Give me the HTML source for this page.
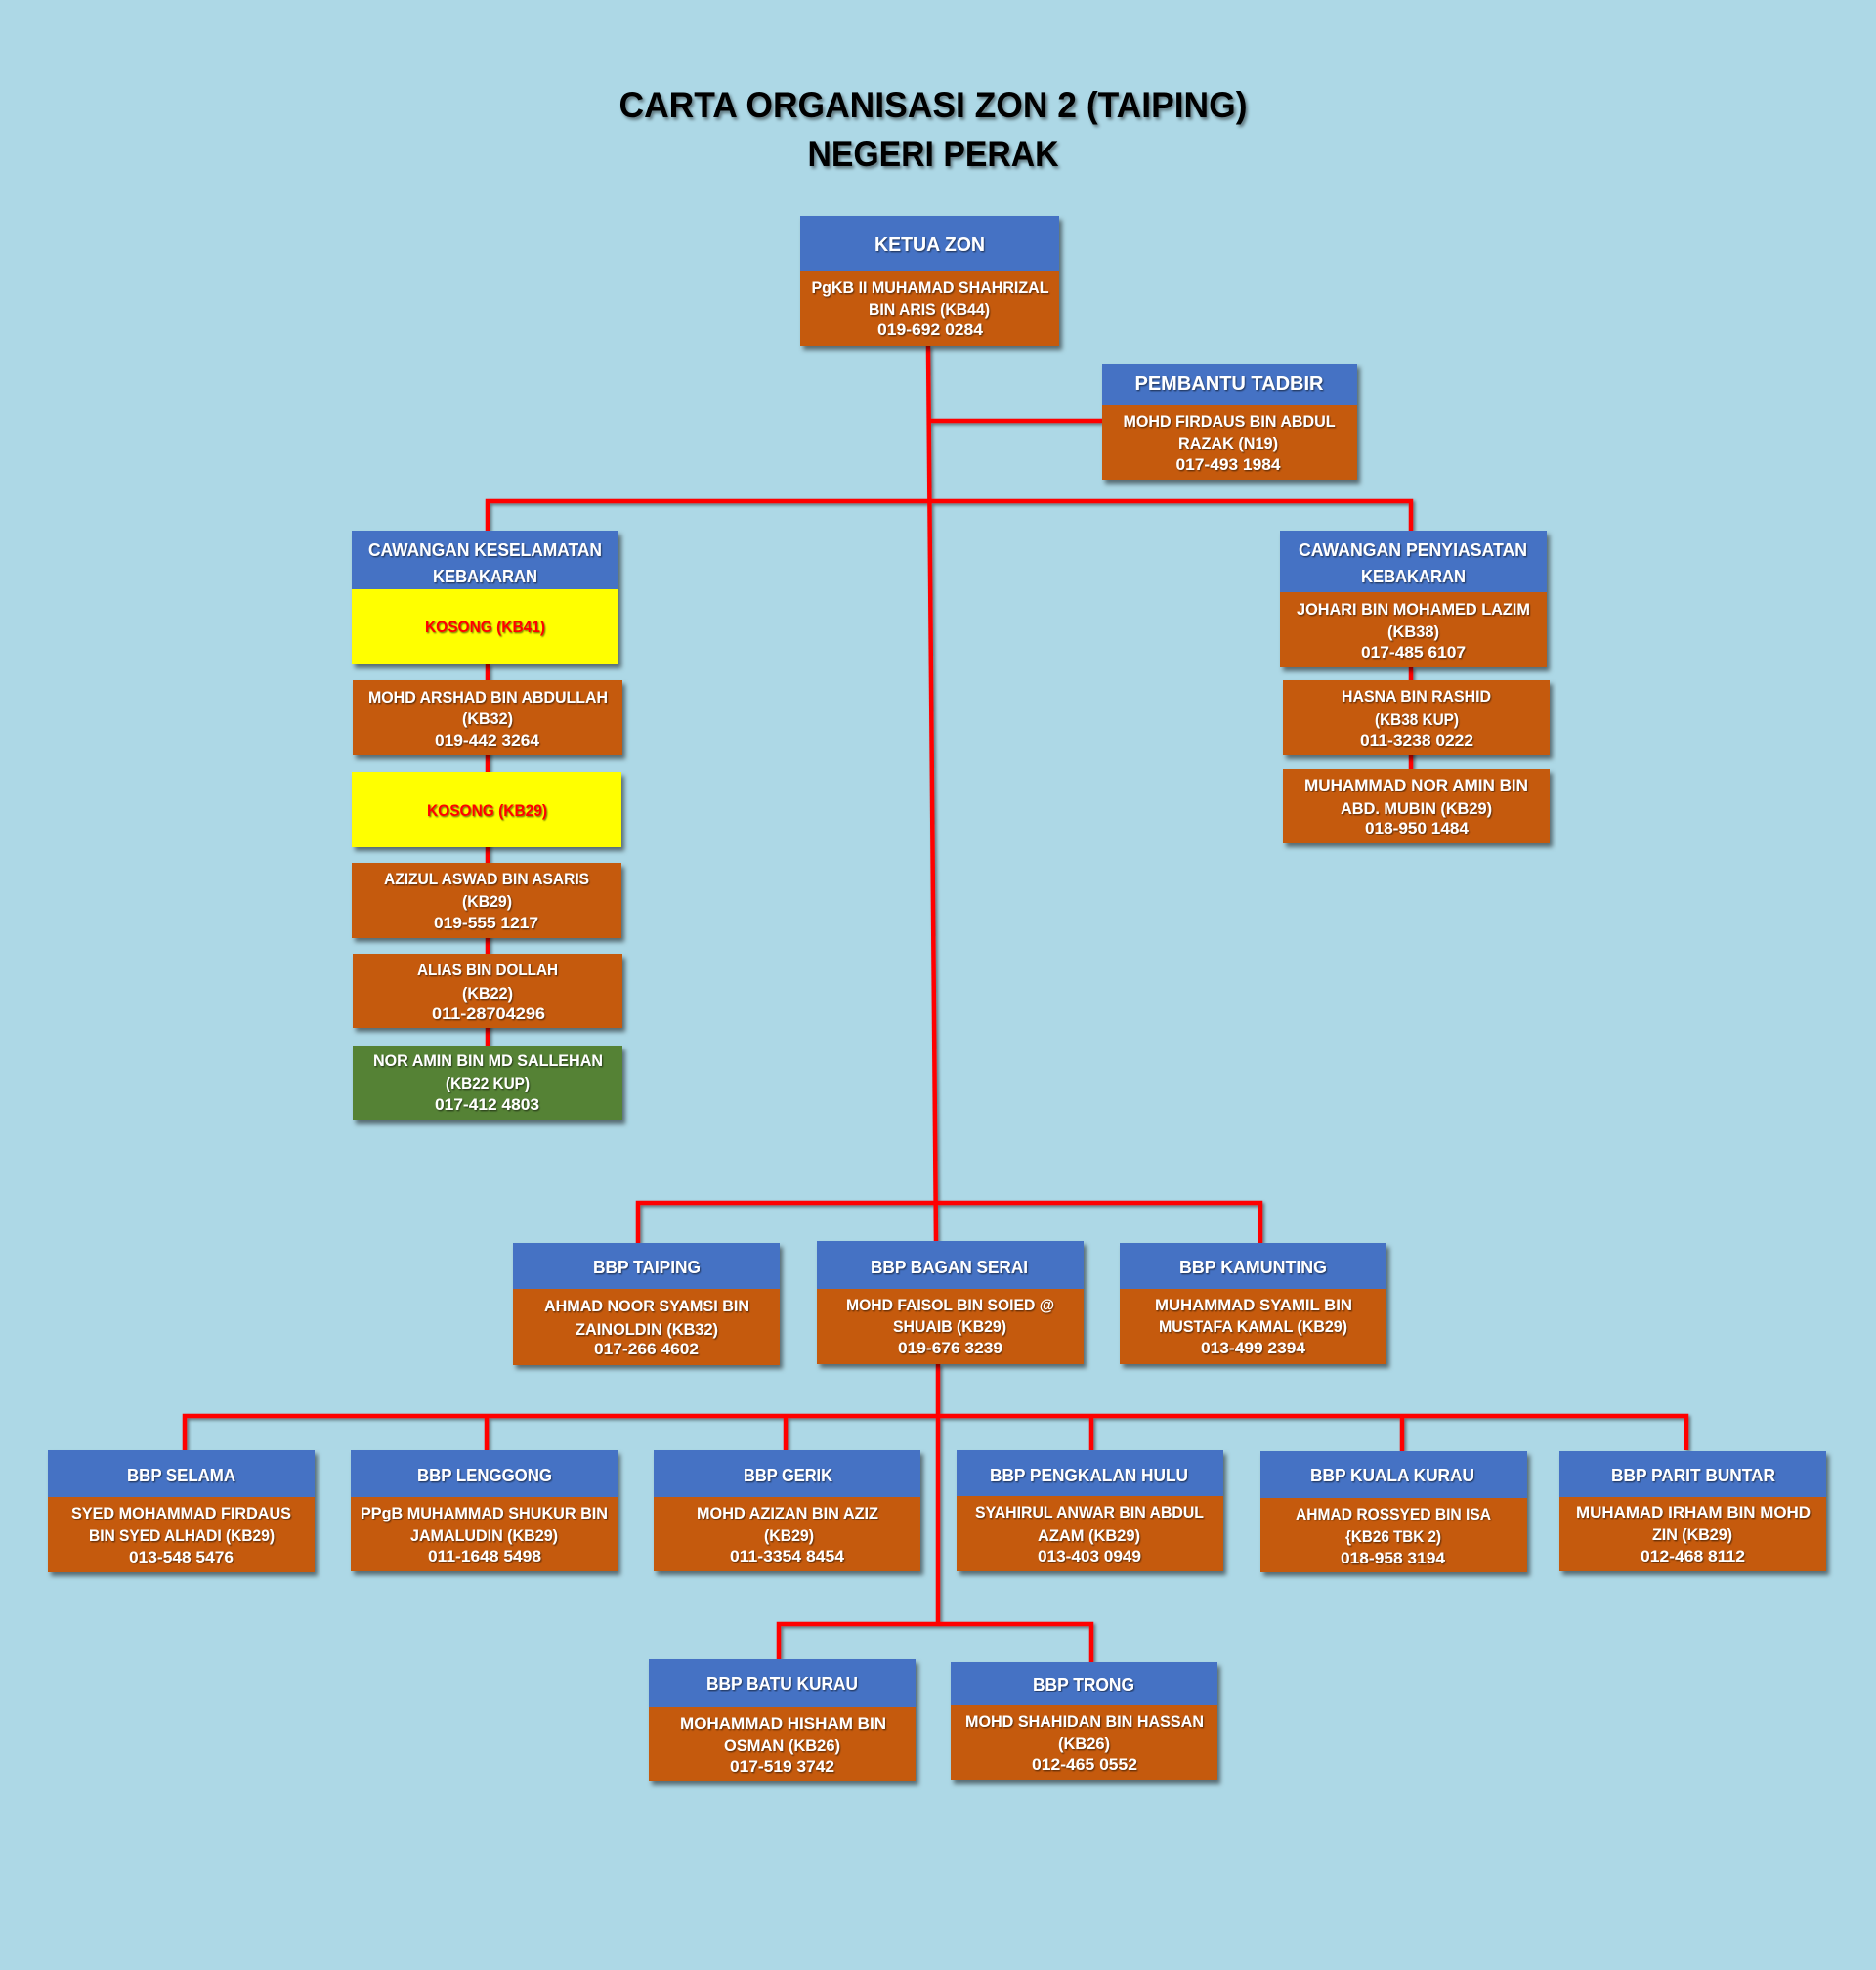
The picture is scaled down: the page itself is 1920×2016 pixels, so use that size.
<!DOCTYPE html>
<html>
<head>
<meta charset="utf-8">
<style>
html,body{margin:0;padding:0;background:#ADD8E6;}
svg{display:block;}
text{font-family:"Liberation Sans",Arial,sans-serif;font-weight:bold;}
</style>
</head>
<body>
<svg width="1920" height="2016" viewBox="0 0 1920 2016" xmlns="http://www.w3.org/2000/svg">
<defs>
<filter id="bs" filterUnits="userSpaceOnUse" x="0" y="0" width="1920" height="2016"><feDropShadow dx="3" dy="4" stdDeviation="2.5" flood-color="#000" flood-opacity="0.5"/></filter>
<filter id="ls" filterUnits="userSpaceOnUse" x="0" y="0" width="1920" height="2016"><feDropShadow dx="2" dy="2" stdDeviation="1.5" flood-color="#000" flood-opacity="0.45"/></filter>
<filter id="ts" filterUnits="userSpaceOnUse" x="0" y="0" width="1920" height="2016"><feDropShadow dx="1" dy="1.2" stdDeviation="0.8" flood-color="#000" flood-opacity="0.55"/></filter>
<filter id="tt" filterUnits="userSpaceOnUse" x="0" y="0" width="1920" height="2016"><feDropShadow dx="2" dy="2.5" stdDeviation="1.5" flood-color="#000" flood-opacity="0.45"/></filter>
</defs>
<rect x="0" y="0" width="1920" height="2016" fill="#ADD8E6"/>

<!-- Title -->
<g filter="url(#tt)" fill="#000" text-anchor="middle">
<text x="955" y="120" font-size="37" textLength="643" lengthAdjust="spacingAndGlyphs">CARTA ORGANISASI ZON 2 (TAIPING)</text>
<text x="955" y="170" font-size="37" textLength="257" lengthAdjust="spacingAndGlyphs">NEGERI PERAK</text>
</g>

<!-- Connectors -->
<g fill="none" stroke="#FF0000" stroke-width="4.5" filter="url(#ls)">
<path d="M950 354 L958 1272"/>
<path d="M951 431 H1128"/>
<path d="M499 543 V513 H1444 V543"/>
<path d="M499 680 V1070"/>
<path d="M1444 683 V787"/>
<path d="M653 1272 V1231 H1290 V1272"/>
<path d="M960 1396 V1662"/>
<path d="M189 1484 V1449 H1726 V1484"/>
<path d="M498 1449 V1484"/>
<path d="M804 1449 V1484"/>
<path d="M1117 1449 V1484"/>
<path d="M1435 1449 V1485"/>
<path d="M797 1698 V1662 H1117 V1701"/>
</g>

<!-- Boxes -->
<g filter="url(#bs)">
<!-- KETUA ZON -->
<rect x="819" y="221" width="265" height="56" fill="#4472C4"/>
<rect x="819" y="277" width="265" height="77" fill="#C55A11"/>
<!-- PEMBANTU TADBIR -->
<rect x="1128" y="372" width="261" height="42" fill="#4472C4"/>
<rect x="1128" y="414" width="261" height="77" fill="#C55A11"/>
<!-- CAWANGAN KESELAMATAN -->
<rect x="360" y="543" width="273" height="60" fill="#4472C4"/>
<rect x="360" y="603" width="273" height="77" fill="#FFFF00"/>
<rect x="361" y="696" width="276" height="77" fill="#C55A11"/>
<rect x="360" y="790" width="276" height="77" fill="#FFFF00"/>
<rect x="360" y="883" width="276" height="77" fill="#C55A11"/>
<rect x="361" y="976" width="276" height="76" fill="#C55A11"/>
<rect x="361" y="1070" width="276" height="76" fill="#548235"/>
<!-- CAWANGAN PENYIASATAN -->
<rect x="1310" y="543" width="273" height="63" fill="#4472C4"/>
<rect x="1310" y="606" width="273" height="77" fill="#C55A11"/>
<rect x="1313" y="696" width="273" height="77" fill="#C55A11"/>
<rect x="1313" y="787" width="273" height="76" fill="#C55A11"/>
<!-- middle row -->
<rect x="525" y="1272" width="273" height="47" fill="#4472C4"/>
<rect x="525" y="1319" width="273" height="78" fill="#C55A11"/>
<rect x="836" y="1270" width="273" height="49" fill="#4472C4"/>
<rect x="836" y="1319" width="273" height="77" fill="#C55A11"/>
<rect x="1146" y="1272" width="273" height="47" fill="#4472C4"/>
<rect x="1146" y="1319" width="273" height="77" fill="#C55A11"/>
<!-- bottom row -->
<rect x="49" y="1484" width="273" height="48" fill="#4472C4"/>
<rect x="49" y="1532" width="273" height="77" fill="#C55A11"/>
<rect x="359" y="1484" width="273" height="48" fill="#4472C4"/>
<rect x="359" y="1532" width="273" height="76" fill="#C55A11"/>
<rect x="669" y="1484" width="273" height="48" fill="#4472C4"/>
<rect x="669" y="1532" width="273" height="76" fill="#C55A11"/>
<rect x="979" y="1484" width="273" height="47" fill="#4472C4"/>
<rect x="979" y="1531" width="273" height="77" fill="#C55A11"/>
<rect x="1290" y="1485" width="273" height="48" fill="#4472C4"/>
<rect x="1290" y="1533" width="273" height="76" fill="#C55A11"/>
<rect x="1596" y="1485" width="273" height="47" fill="#4472C4"/>
<rect x="1596" y="1532" width="273" height="76" fill="#C55A11"/>
<!-- last row -->
<rect x="664" y="1698" width="273" height="49" fill="#4472C4"/>
<rect x="664" y="1747" width="273" height="76" fill="#C55A11"/>
<rect x="973" y="1701" width="273" height="44" fill="#4472C4"/>
<rect x="973" y="1745" width="273" height="77" fill="#C55A11"/>
</g>

<!-- White text -->
<g filter="url(#ts)" fill="#FFFFFF" text-anchor="middle">
<!-- KETUA -->
<text x="951.5" y="257" font-size="20.5" textLength="113" lengthAdjust="spacingAndGlyphs">KETUA ZON</text>
<text x="952" y="300" font-size="16.5" textLength="243" lengthAdjust="spacingAndGlyphs">PgKB II MUHAMAD SHAHRIZAL</text>
<text x="951" y="322" font-size="16.5" textLength="124" lengthAdjust="spacingAndGlyphs">BIN ARIS (KB44)</text>
<text x="952" y="343" font-size="16.5" textLength="108" lengthAdjust="spacingAndGlyphs">019-692 0284</text>
<!-- PEMBANTU -->
<text x="1258" y="399" font-size="20" textLength="193" lengthAdjust="spacingAndGlyphs">PEMBANTU TADBIR</text>
<text x="1258" y="437" font-size="16.5" textLength="217" lengthAdjust="spacingAndGlyphs">MOHD FIRDAUS BIN ABDUL</text>
<text x="1257" y="459" font-size="16.5" textLength="102" lengthAdjust="spacingAndGlyphs">RAZAK (N19)</text>
<text x="1257" y="481" font-size="16.5" textLength="107" lengthAdjust="spacingAndGlyphs">017-493 1984</text>
<!-- CAW KES -->
<text x="496.5" y="569" font-size="18" textLength="239" lengthAdjust="spacingAndGlyphs">CAWANGAN  KESELAMATAN</text>
<text x="496.5" y="596" font-size="18" textLength="107" lengthAdjust="spacingAndGlyphs">KEBAKARAN</text>
<text x="499.5" y="719" font-size="16.5" textLength="245" lengthAdjust="spacingAndGlyphs">MOHD ARSHAD BIN ABDULLAH</text>
<text x="499" y="741" font-size="16.5" textLength="52" lengthAdjust="spacingAndGlyphs">(KB32)</text>
<text x="498.5" y="763" font-size="16.5" textLength="107" lengthAdjust="spacingAndGlyphs">019-442 3264</text>
<text x="498" y="905" font-size="16.5" textLength="210" lengthAdjust="spacingAndGlyphs">AZIZUL ASWAD BIN ASARIS</text>
<text x="498.5" y="928" font-size="16.5" textLength="51" lengthAdjust="spacingAndGlyphs">(KB29)</text>
<text x="497.5" y="950" font-size="16.5" textLength="107" lengthAdjust="spacingAndGlyphs">019-555 1217</text>
<text x="499" y="998" font-size="16.5" textLength="144" lengthAdjust="spacingAndGlyphs">ALIAS BIN DOLLAH</text>
<text x="499" y="1022" font-size="16.5" textLength="52" lengthAdjust="spacingAndGlyphs">(KB22)</text>
<text x="500" y="1043" font-size="16.5" textLength="116" lengthAdjust="spacingAndGlyphs">011-28704296</text>
<text x="499.5" y="1091" font-size="16.5" textLength="235" lengthAdjust="spacingAndGlyphs">NOR AMIN BIN MD SALLEHAN</text>
<text x="499" y="1114" font-size="16.5" textLength="86" lengthAdjust="spacingAndGlyphs">(KB22 KUP)</text>
<text x="498.5" y="1136" font-size="16.5" textLength="107" lengthAdjust="spacingAndGlyphs">017-412 4803</text>
<!-- CAW PENY -->
<text x="1446" y="569" font-size="18" textLength="234" lengthAdjust="spacingAndGlyphs">CAWANGAN  PENYIASATAN</text>
<text x="1446.5" y="596" font-size="18" textLength="107" lengthAdjust="spacingAndGlyphs">KEBAKARAN</text>
<text x="1446.5" y="629" font-size="16.5" textLength="239" lengthAdjust="spacingAndGlyphs">JOHARI BIN MOHAMED LAZIM</text>
<text x="1446.5" y="652" font-size="16.5" textLength="53" lengthAdjust="spacingAndGlyphs">(KB38)</text>
<text x="1446.5" y="673" font-size="16.5" textLength="107" lengthAdjust="spacingAndGlyphs">017-485 6107</text>
<text x="1449.5" y="718" font-size="16.5" textLength="153" lengthAdjust="spacingAndGlyphs">HASNA BIN RASHID</text>
<text x="1450" y="742" font-size="16.5" textLength="86" lengthAdjust="spacingAndGlyphs">(KB38 KUP)</text>
<text x="1450" y="763" font-size="16.5" textLength="116" lengthAdjust="spacingAndGlyphs">011-3238 0222</text>
<text x="1449.5" y="809" font-size="16.5" textLength="229" lengthAdjust="spacingAndGlyphs">MUHAMMAD NOR AMIN BIN</text>
<text x="1449.5" y="833" font-size="16.5" textLength="155" lengthAdjust="spacingAndGlyphs">ABD. MUBIN (KB29)</text>
<text x="1450" y="853" font-size="16.5" textLength="106" lengthAdjust="spacingAndGlyphs">018-950 1484</text>
<!-- TAIPING -->
<text x="662" y="1303" font-size="18.5" textLength="110" lengthAdjust="spacingAndGlyphs">BBP TAIPING</text>
<text x="662" y="1342" font-size="16.5" textLength="210" lengthAdjust="spacingAndGlyphs">AHMAD NOOR SYAMSI BIN</text>
<text x="662" y="1366" font-size="16.5" textLength="146" lengthAdjust="spacingAndGlyphs">ZAINOLDIN (KB32)</text>
<text x="661.5" y="1386" font-size="16.5" textLength="107" lengthAdjust="spacingAndGlyphs">017-266 4602</text>
<!-- BAGAN SERAI -->
<text x="971.5" y="1303" font-size="18.5" textLength="161" lengthAdjust="spacingAndGlyphs">BBP BAGAN SERAI</text>
<text x="972.5" y="1341" font-size="16.5" textLength="213" lengthAdjust="spacingAndGlyphs">MOHD FAISOL BIN SOIED @</text>
<text x="972" y="1363" font-size="16.5" textLength="116" lengthAdjust="spacingAndGlyphs">SHUAIB (KB29)</text>
<text x="972.5" y="1385" font-size="16.5" textLength="107" lengthAdjust="spacingAndGlyphs">019-676 3239</text>
<!-- KAMUNTING -->
<text x="1282.5" y="1303" font-size="18.5" textLength="151" lengthAdjust="spacingAndGlyphs">BBP KAMUNTING</text>
<text x="1283" y="1341" font-size="16.5" textLength="202" lengthAdjust="spacingAndGlyphs">MUHAMMAD SYAMIL BIN</text>
<text x="1282.5" y="1363" font-size="16.5" textLength="193" lengthAdjust="spacingAndGlyphs">MUSTAFA KAMAL (KB29)</text>
<text x="1282.5" y="1385" font-size="16.5" textLength="107" lengthAdjust="spacingAndGlyphs">013-499 2394</text>
<!-- SELAMA -->
<text x="185.5" y="1516" font-size="18.5" textLength="111" lengthAdjust="spacingAndGlyphs">BBP SELAMA</text>
<text x="185.5" y="1554" font-size="16.5" textLength="225" lengthAdjust="spacingAndGlyphs">SYED MOHAMMAD FIRDAUS</text>
<text x="186" y="1577" font-size="16.5" textLength="190" lengthAdjust="spacingAndGlyphs">BIN SYED ALHADI (KB29)</text>
<text x="185.5" y="1599" font-size="16.5" textLength="107" lengthAdjust="spacingAndGlyphs">013-548 5476</text>
<!-- LENGGONG -->
<text x="496" y="1516" font-size="18.5" textLength="138" lengthAdjust="spacingAndGlyphs">BBP LENGGONG</text>
<text x="495.5" y="1554" font-size="16.5" textLength="253" lengthAdjust="spacingAndGlyphs">PPgB MUHAMMAD SHUKUR BIN</text>
<text x="495.5" y="1577" font-size="16.5" textLength="151" lengthAdjust="spacingAndGlyphs">JAMALUDIN (KB29)</text>
<text x="496" y="1598" font-size="16.5" textLength="116" lengthAdjust="spacingAndGlyphs">011-1648 5498</text>
<!-- GERIK -->
<text x="806.5" y="1516" font-size="18.5" textLength="91" lengthAdjust="spacingAndGlyphs">BBP GERIK</text>
<text x="806" y="1554" font-size="16.5" textLength="186" lengthAdjust="spacingAndGlyphs">MOHD AZIZAN BIN AZIZ</text>
<text x="807.5" y="1577" font-size="16.5" textLength="51" lengthAdjust="spacingAndGlyphs">(KB29)</text>
<text x="805.5" y="1598" font-size="16.5" textLength="117" lengthAdjust="spacingAndGlyphs">011-3354 8454</text>
<!-- PENGKALAN HULU -->
<text x="1114.5" y="1516" font-size="18.5" textLength="203" lengthAdjust="spacingAndGlyphs">BBP PENGKALAN  HULU</text>
<text x="1115" y="1553" font-size="16.5" textLength="234" lengthAdjust="spacingAndGlyphs">SYAHIRUL ANWAR BIN ABDUL</text>
<text x="1114.5" y="1577" font-size="16.5" textLength="105" lengthAdjust="spacingAndGlyphs">AZAM (KB29)</text>
<text x="1115" y="1598" font-size="16.5" textLength="106" lengthAdjust="spacingAndGlyphs">013-403 0949</text>
<!-- KUALA KURAU -->
<text x="1425" y="1516" font-size="18.5" textLength="168" lengthAdjust="spacingAndGlyphs">BBP KUALA KURAU</text>
<text x="1426" y="1555" font-size="16.5" textLength="200" lengthAdjust="spacingAndGlyphs">AHMAD ROSSYED BIN ISA</text>
<text x="1426" y="1578" font-size="16.5" textLength="98" lengthAdjust="spacingAndGlyphs">{KB26 TBK 2)</text>
<text x="1425.5" y="1600" font-size="16.5" textLength="107" lengthAdjust="spacingAndGlyphs">018-958 3194</text>
<!-- PARIT BUNTAR -->
<text x="1733" y="1516" font-size="18.5" textLength="168" lengthAdjust="spacingAndGlyphs">BBP PARIT BUNTAR</text>
<text x="1733" y="1553" font-size="16.5" textLength="240" lengthAdjust="spacingAndGlyphs">MUHAMAD IRHAM BIN MOHD</text>
<text x="1732" y="1576" font-size="16.5" textLength="82" lengthAdjust="spacingAndGlyphs">ZIN (KB29)</text>
<text x="1732.5" y="1598" font-size="16.5" textLength="107" lengthAdjust="spacingAndGlyphs">012-468 8112</text>
<!-- BATU KURAU -->
<text x="800.5" y="1729" font-size="18.5" textLength="155" lengthAdjust="spacingAndGlyphs">BBP BATU  KURAU</text>
<text x="801.5" y="1769" font-size="16.5" textLength="211" lengthAdjust="spacingAndGlyphs">MOHAMMAD HISHAM BIN</text>
<text x="800.5" y="1792" font-size="16.5" textLength="119" lengthAdjust="spacingAndGlyphs">OSMAN (KB26)</text>
<text x="800.5" y="1813" font-size="16.5" textLength="107" lengthAdjust="spacingAndGlyphs">017-519 3742</text>
<!-- TRONG -->
<text x="1109" y="1730" font-size="18.5" textLength="104" lengthAdjust="spacingAndGlyphs">BBP TRONG</text>
<text x="1110" y="1767" font-size="16.5" textLength="244" lengthAdjust="spacingAndGlyphs">MOHD SHAHIDAN BIN HASSAN</text>
<text x="1109.5" y="1790" font-size="16.5" textLength="53" lengthAdjust="spacingAndGlyphs">(KB26)</text>
<text x="1110" y="1811" font-size="16.5" textLength="108" lengthAdjust="spacingAndGlyphs">012-465 0552</text>
</g>

<!-- Red text on yellow -->
<g filter="url(#ts)" fill="#FF0000" text-anchor="middle">
<text x="496.5" y="647" font-size="16.5" textLength="123" lengthAdjust="spacingAndGlyphs">KOSONG (KB41)</text>
<text x="498.5" y="835" font-size="16.5" textLength="123" lengthAdjust="spacingAndGlyphs">KOSONG (KB29)</text>
</g>
</svg>
</body>
</html>
